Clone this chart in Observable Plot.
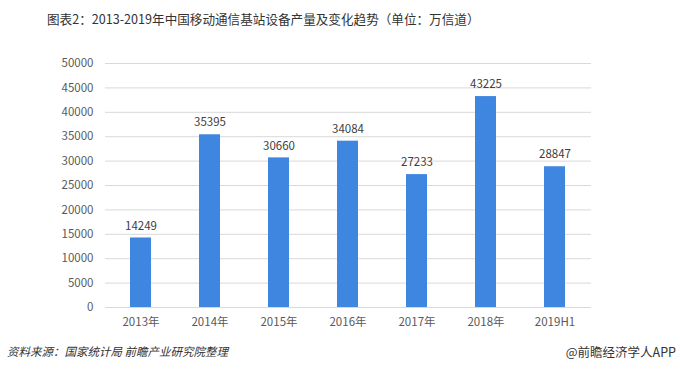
<!DOCTYPE html>
<html><head><meta charset="utf-8">
<script src="https://cdn.jsdelivr.net/npm/d3@7"></script>
<script src="https://cdn.jsdelivr.net/npm/@observablehq/plot@0.6"></script>
<style>
html,body{margin:0;padding:0;background:#fff;}
#wrap{position:relative;width:680px;height:374px;overflow:hidden;font-family:"Noto Sans CJK SC","Noto Sans",sans-serif;}
#title{position:absolute;left:47px;top:9px;font-size:12.6px;color:#333;white-space:nowrap;}
#src{position:absolute;left:7px;top:343px;font-size:11.5px;color:#333;font-style:italic;white-space:nowrap;}
#brand{position:absolute;right:4px;top:342px;font-size:12.5px;color:#333;white-space:nowrap;}
#chart{position:absolute;left:0;top:0;}
</style></head>
<body><div id="wrap"><div id="chart"></div>
<div id="title">图表2：2013-2019年中国移动通信基站设备产量及变化趋势（单位：万信道）</div>
<div id="src">资料来源：国家统计局 前瞻产业研究院整理</div>
<div id="brand">@前瞻经济学人APP</div>
</div>
<script>
const categories = ["2013年","2014年","2015年","2016年","2017年","2018年","2019H1"];
const values = [14249,35395,30660,34084,27233,43225,28847];
const yTicks = [0,5000,10000,15000,20000,25000,30000,35000,40000,45000,50000];
const data = categories.map((c,i)=>({cat:c, v:values[i]}));

const chart = Plot.plot({
  width:680, height:374,
  marginLeft:105, marginRight:89, marginTop:63, marginBottom:67,
  style:{fontFamily:'"Noto Sans CJK SC","Noto Sans",sans-serif', fontSize:"11.5px", color:"#595959", background:"transparent"},
  x:{domain:categories, paddingInner:0.69, paddingOuter:0.345, label:null, tickSize:0, tickPadding:10},
  y:{domain:[0,50000], ticks:yTicks, tickFormat:d=>String(d), label:null, tickSize:0, tickPadding:12},
  marks:[
    Plot.gridY(yTicks,{stroke:"#d9d9d9", strokeOpacity:1, strokeWidth:1}),
    Plot.barY(data,{x:"cat", y:"v", fill:"#3f86e0"}),
    Plot.text(data,{x:"cat", y:"v", text:d=>String(d.v), dy:-12, fill:"#404040", fontSize:11.5})
  ]
});
document.getElementById("chart").appendChild(chart);
</script>
</body></html>
